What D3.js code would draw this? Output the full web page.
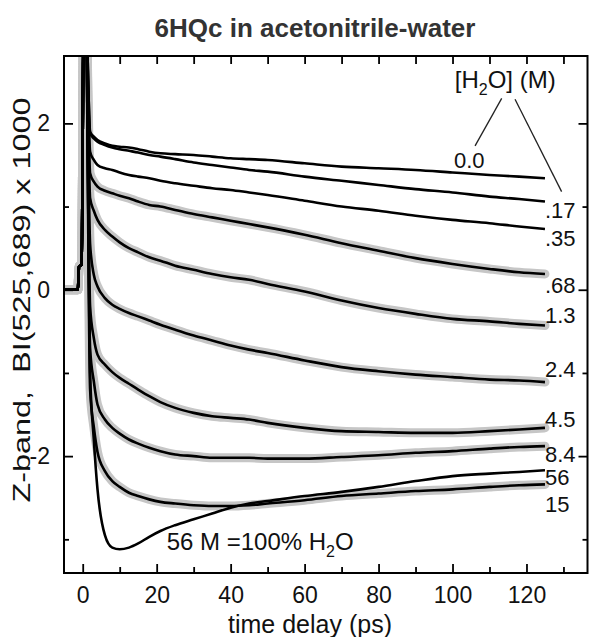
<!DOCTYPE html>
<html>
<head>
<meta charset="utf-8">
<script src="https://cdn.jsdelivr.net/npm/d3@7"></script>
<style>
  body { margin: 0; background: #fff; }
  svg { display: block; font-family: "Liberation Sans", Arial, Helvetica, sans-serif; }
</style>
</head>
<body>
<svg id="chart" width="589" height="637"></svg>
<script>
'use strict';

// time grid (ps) of the decay part
const times = [2, 3, 4, 6, 8, 10, 12.5, 15, 18, 21, 25, 30, 35, 40, 45, 50, 60, 70, 80, 90, 100, 110, 118, 125];

// baseline + pump spike, shared by every trace
const riseTimes = [-5, -1.3, -1.0, -0.3, 0.3, 0.8];
const riseValues = [0, 0, 0.28, 0.3, 3.4, 3.4];

// [H2O] in M, one trace each
const waterConc = ['0.0', '.17', '.35', '.68', '1.3', '2.4', '4.5', '8.4', '15', '56'];
const fitted = [false, false, false, true, true, true, true, true, true, false];

const w0_0 = [1.90, 1.84, 1.80, 1.76, 1.73, 1.72, 1.71, 1.69, 1.66, 1.64, 1.63, 1.62, 1.60, 1.58, 1.57, 1.56, 1.52, 1.48, 1.46, 1.44, 1.41, 1.38, 1.36, 1.34];
const w0_17 = [1.88, 1.82, 1.78, 1.74, 1.71, 1.69, 1.67, 1.65, 1.62, 1.60, 1.57, 1.53, 1.50, 1.47, 1.44, 1.42, 1.36, 1.31, 1.26, 1.21, 1.17, 1.12, 1.09, 1.06];
const w0_35 = [1.66, 1.56, 1.50, 1.46, 1.44, 1.41, 1.38, 1.36, 1.34, 1.31, 1.28, 1.25, 1.22, 1.20, 1.17, 1.14, 1.07, 1.00, 0.95, 0.89, 0.84, 0.80, 0.76, 0.73];
const w0_68 = [1.40, 1.30, 1.24, 1.19, 1.16, 1.13, 1.10, 1.06, 1.02, 1.00, 0.96, 0.91, 0.87, 0.83, 0.79, 0.75, 0.66, 0.56, 0.47, 0.38, 0.31, 0.25, 0.21, 0.19];
const w1_3 = [1.10, 0.95, 0.84, 0.72, 0.64, 0.57, 0.50, 0.45, 0.39, 0.35, 0.29, 0.24, 0.19, 0.15, 0.12, 0.07, -0.02, -0.13, -0.22, -0.29, -0.35, -0.38, -0.41, -0.43];
const w2_4 = [0.55, 0.18, 0.04, -0.10, -0.18, -0.23, -0.28, -0.32, -0.37, -0.42, -0.48, -0.55, -0.61, -0.67, -0.72, -0.76, -0.85, -0.93, -0.98, -1.02, -1.05, -1.08, -1.09, -1.11];
const w4_5 = [-0.20, -0.58, -0.78, -0.90, -0.99, -1.06, -1.13, -1.20, -1.28, -1.35, -1.42, -1.48, -1.52, -1.54, -1.56, -1.60, -1.66, -1.70, -1.71, -1.72, -1.72, -1.70, -1.68, -1.66];
const w8_4 = [-0.70, -1.10, -1.38, -1.56, -1.66, -1.73, -1.80, -1.85, -1.90, -1.94, -1.98, -2.00, -2.02, -2.02, -2.02, -2.03, -2.03, -2.01, -1.99, -1.96, -1.94, -1.91, -1.89, -1.88];
const w15 = [-1.20, -1.65, -1.95, -2.18, -2.30, -2.37, -2.44, -2.48, -2.52, -2.55, -2.57, -2.59, -2.60, -2.60, -2.59, -2.57, -2.53, -2.48, -2.45, -2.42, -2.40, -2.37, -2.35, -2.34];
const w56 = [-1.00, -1.80, -2.40, -2.95, -3.10, -3.12, -3.10, -3.05, -2.97, -2.90, -2.83, -2.76, -2.69, -2.62, -2.57, -2.54, -2.48, -2.43, -2.37, -2.30, -2.24, -2.21, -2.19, -2.17];

const traces = [w0_0, w0_17, w0_35, w0_68, w1_3, w2_4, w4_5, w8_4, w15, w56];

// where the concentration labels sit (data units)
const labelT = [100.4, 125, 125, 125, 125, 125, 125, 125, 125, 125];
const labelV = [1.46, 0.86, 0.52, -0.04, -0.40, -1.05, -1.65, -2.07, -2.67, -2.35];

const xMajor = [0, 20, 40, 60, 80, 100, 120];
const xMinor = [10, 30, 50, 70, 90, 110, 130];
const yMajor = [2, 0, -2];
const yMinor = [1, -1, -3];

// Setting dimensions
const svg = d3.select('#chart');
const mLeft = 64, mRight = 587.5, mTop = 56, mBottom = 573;

const xScale = d3.scaleLinear().domain([-5.06, 136.5]).range([mLeft, mRight]);
const yScale = d3.scaleLinear().domain([-3.405, 2.81]).range([mBottom, mTop]);

svg.append('defs').append('clipPath').attr('id', 'plotclip')
  .append('rect')
  .attr('x', mLeft).attr('y', mTop)
  .attr('width', mRight - mLeft).attr('height', mBottom - mTop);

const toPoints = (vals) => riseTimes.map((t, i) => [t, riseValues[i]])
  .concat(times.map((t, i) => [t, vals[i]]));

const line = d3.line()
  .x(d => xScale(d[0]))
  .y(d => yScale(d[1]))
  .curve(d3.curveMonotoneX);

const plot = svg.append('g').attr('clip-path', 'url(#plotclip)');

// grey fits go under the data
plot.selectAll('path.fit')
  .data(traces.filter((d, i) => fitted[i]))
  .join('path')
  .attr('class', 'fit')
  .attr('d', d => line(toPoints(d)))
  .style('fill', 'none')
  .style('stroke', '#c6c6c6')
  .style('stroke-width', 9)
  .style('stroke-linecap', 'round')
  .style('stroke-linejoin', 'round');

plot.selectAll('path.trace')
  .data(traces)
  .join('path')
  .attr('class', 'trace')
  .attr('d', d => line(toPoints(d)))
  .style('fill', 'none')
  .style('stroke', '#000')
  .style('stroke-width', 2.6)
  .style('stroke-linejoin', 'round');

// axes, ticks pointing inward
const tickStyle = g => {
  g.select('.domain').remove();
  g.selectAll('.tick line').style('stroke', '#000').style('stroke-width', 1.8);
  g.selectAll('.tick text').style('font-size', '23px').style('fill', '#111');
};

svg.append('g').attr('transform', `translate(0,${mBottom})`)
  .call(d3.axisBottom(xScale).tickValues(xMajor).tickSize(-9).tickPadding(14).tickFormat(d3.format('d')))
  .call(tickStyle);
svg.append('g').attr('transform', `translate(0,${mBottom})`)
  .call(d3.axisBottom(xScale).tickValues(xMinor).tickSize(-6).tickFormat(''))
  .call(tickStyle);
svg.append('g').attr('transform', `translate(0,${mTop})`)
  .call(d3.axisTop(xScale).tickValues(xMajor.concat(xMinor)).tickSize(-8).tickFormat(''))
  .call(tickStyle);

svg.append('g').attr('transform', `translate(${mLeft},0)`)
  .call(d3.axisLeft(yScale).tickValues(yMajor).tickSize(-9).tickPadding(14).tickFormat(d => String(d)))
  .call(tickStyle);
svg.append('g').attr('transform', `translate(${mLeft},0)`)
  .call(d3.axisLeft(yScale).tickValues(yMinor).tickSize(-5).tickFormat(''))
  .call(tickStyle);
svg.append('g').attr('transform', `translate(${mRight},0)`)
  .call(d3.axisRight(yScale).tickValues(yMajor).tickSize(-9).tickFormat(''))
  .call(tickStyle);
svg.append('g').attr('transform', `translate(${mRight},0)`)
  .call(d3.axisRight(yScale).tickValues(yMinor).tickSize(-5).tickFormat(''))
  .call(tickStyle);

// frame
svg.append('rect')
  .attr('x', mLeft).attr('y', mTop)
  .attr('width', mRight - mLeft).attr('height', mBottom - mTop)
  .style('fill', 'none').style('stroke', '#000').style('stroke-width', 2);

// title and axis labels
svg.append('text')
  .attr('x', 315).attr('y', 37)
  .attr('text-anchor', 'middle')
  .style('font-size', '26px').style('font-weight', 'bold').style('fill', '#333')
  .text('6HQc in acetonitrile-water');

svg.append('text')
  .attr('x', 310).attr('y', 633)
  .attr('text-anchor', 'middle')
  .style('font-size', '25px').style('fill', '#111')
  .text('time delay  (ps)');

// the y label is drawn taller than its glyph width in the original
svg.append('text')
  .attr('transform', 'translate(30,300) rotate(-90)')
  .attr('text-anchor', 'middle')
  .attr('textLength', 405)
  .attr('lengthAdjust', 'spacingAndGlyphs')
  .style('font-size', '24px').style('fill', '#111')
  .style('white-space', 'pre')
  .text('Z-band,  BI(525,689) x 1000');

// concentration labels
svg.selectAll('text.conc')
  .data(waterConc)
  .join('text')
  .attr('class', 'conc')
  .attr('x', (d, i) => xScale(labelT[i]))
  .attr('y', (d, i) => yScale(labelV[i]))
  .style('font-size', '22px').style('fill', '#111')
  .text(d => d);

// legend heading with leader lines
const head = svg.append('text')
  .attr('x', xScale(100.6)).attr('y', yScale(2.43))
  .style('font-size', '24px').style('fill', '#111');
head.append('tspan').text('[H');
head.append('tspan').attr('dy', 7).style('font-size', '16px').text('2');
head.append('tspan').attr('dy', -7).text('O] (M)');

const leaders = [[[113.3, 2.30], [106.1, 1.73]], [[116.9, 2.29], [129.5, 1.18]]];
svg.selectAll('line.leader')
  .data(leaders)
  .join('line')
  .attr('class', 'leader')
  .attr('x1', d => xScale(d[0][0])).attr('y1', d => yScale(d[0][1]))
  .attr('x2', d => xScale(d[1][0])).attr('y2', d => yScale(d[1][1]))
  .style('stroke', '#222').style('stroke-width', 1.3);

// note on the 56 M trace
const note = svg.append('text')
  .attr('x', xScale(22.7)).attr('y', yScale(-3.13))
  .style('font-size', '24px').style('fill', '#111');
note.append('tspan').text('56 M =100% H');
note.append('tspan').attr('dy', 7).style('font-size', '16px').text('2');
note.append('tspan').attr('dy', -7).text('O');
</script>
</body>
</html>
